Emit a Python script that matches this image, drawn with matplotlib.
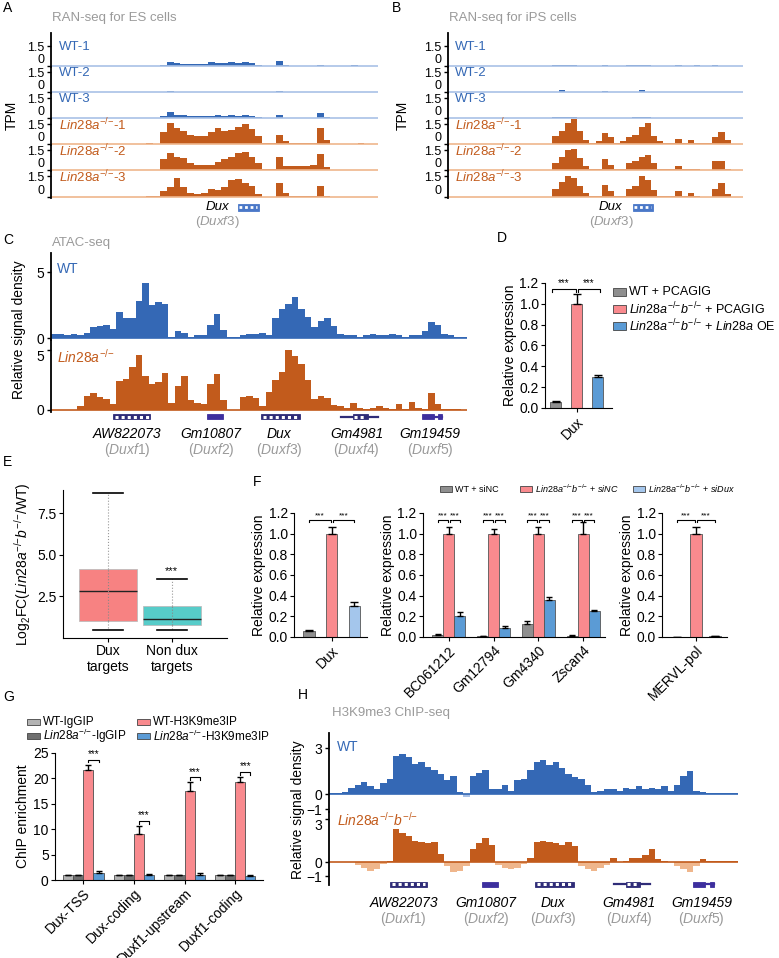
import matplotlib.pyplot as plt
import numpy as np
from matplotlib.patches import Rectangle

plt.rcParams['font.family'] = ['Liberation Sans', 'DejaVu Sans']
plt.rcParams['mathtext.fontset'] = 'custom'
plt.rcParams['mathtext.rm'] = 'Liberation Sans'
plt.rcParams['mathtext.it'] = 'Liberation Sans:italic'
plt.rcParams['mathtext.bf'] = 'Liberation Sans:bold'
plt.rcParams['font.size'] = 9

W, H = 779, 958

BLUE = '#3468b5'
BLUE_L = '#a9c1e6'
ORANGE = '#c25b1c'
ORANGE_L = '#efb68c'
GRAY_T = '#9a9a9a'
NAVY = '#2f2c78'
PURPLE = '#3d2f9e'
BAR_GRAY = '#8f8f8f'
BAR_RED = '#f98a8e'
BAR_BLUE = '#5b9bd5'
BAR_LBLUE = '#a4c6ec'

SUP = r'^{-/{-}}'
LIN = r'$\mathit{Lin28a}' + SUP + '$'
LINB = r'$\mathit{Lin28a}' + SUP + r'\mathit{b}' + SUP + '$'

# RNA-seq coverage (TPM), ES cells, 48 bins across the locus
es_wt1 = [0.02, 0.02, 0.02, 0.02, 0.02, 0.02, 0.02, 0.02, 0.02, 0.02, 0.02, 0.02, 0.02, 0.02, 0.02, 0.02,
          0.1, 0.3, 0.25, 0.18, 0.15, 0.15, 0.18, 0.28, 0.2, 0.22, 0.28, 0.22, 0.28, 0.25, 0.1,
          0.02, 0.02, 0.35, 0.05, 0.02, 0.02, 0.02, 0.02, 0.06, 0.02, 0.02, 0.02, 0.02, 0.05, 0.02, 0.02, 0.02]
es_wt2 = [0.01, 0.01, 0.01, 0.01, 0.01, 0.01, 0.01, 0.01, 0.01, 0.01, 0.01, 0.01, 0.01, 0.01, 0.01, 0.01,
          0.01, 0.04, 0.01, 0.01, 0.01, 0.01, 0.01, 0.03, 0.01, 0.01, 0.01, 0.01, 0.01, 0.01, 0.01,
          0.01, 0.01, 0.04, 0.01, 0.01, 0.01, 0.01, 0.01, 0.01, 0.01, 0.01, 0.01, 0.01, 0.01, 0.01, 0.01, 0.01]
es_wt3 = [0.02, 0.02, 0.02, 0.02, 0.02, 0.02, 0.02, 0.02, 0.02, 0.02, 0.02, 0.02, 0.02, 0.02, 0.02, 0.02,
          0.15, 0.45, 0.25, 0.2, 0.15, 0.15, 0.15, 0.15, 0.2, 0.15, 0.2, 0.18, 0.25, 0.15, 0.05,
          0.02, 0.02, 0.25, 0.02, 0.02, 0.02, 0.02, 0.02, 0.35, 0.05, 0.02, 0.02, 0.02, 0.02, 0.02, 0.02, 0.02]
es_lin1 = [0.02, 0.02, 0.02, 0.02, 0.02, 0.02, 0.02, 0.02, 0.02, 0.02, 0.02, 0.02, 0.02, 0.02, 0.06, 0.02,
           0.9, 1.55, 1.2, 1.0, 0.65, 0.6, 0.6, 0.9, 1.2, 1.0, 1.05, 1.3, 1.5, 1.1, 0.6,
           0.1, 0.1, 0.7, 0.2, 0.1, 0.1, 0.1, 0.1, 1.2, 0.3, 0.02, 0.02, 0.02, 0.02, 0.05, 0.02, 0.02]
es_lin2 = [0.02, 0.02, 0.02, 0.02, 0.02, 0.02, 0.02, 0.02, 0.02, 0.02, 0.02, 0.02, 0.02, 0.02, 0.02, 0.02,
           0.8, 1.3, 1.0, 0.9, 0.55, 0.35, 0.35, 0.35, 0.6, 0.8, 1.0, 1.3, 1.35, 1.0, 0.5,
           0.05, 0.05, 1.0, 0.3, 0.3, 0.3, 0.3, 0.35, 1.2, 0.2, 0.02, 0.02, 0.02, 0.02, 0.02, 0.02, 0.02]
es_lin3 = [0.02, 0.02, 0.02, 0.02, 0.02, 0.02, 0.02, 0.02, 0.02, 0.02, 0.02, 0.02, 0.02, 0.02, 0.1, 0.1,
           0.4, 0.7, 1.4, 0.7, 0.3, 0.2, 0.3, 0.6, 0.5, 0.7, 1.2, 1.3, 1.0, 0.8, 0.2,
           0.02, 0.02, 1.0, 0.3, 0.05, 0.05, 0.05, 0.05, 0.8, 0.1, 0.02, 0.02, 0.02, 0.02, 0.02, 0.02, 0.02]

# RNA-seq coverage (TPM), iPS cells
ips_wt1 = [0, 0, 0, 0, 0, 0, 0, 0, 0, 0, 0, 0, 0, 0, 0, 0, 0,
           0.05, 0.08, 0.1, 0.05, 0, 0, 0, 0, 0.08, 0, 0, 0, 0.05, 0.06, 0.1, 0.06,
           0, 0, 0, 0, 0.05, 0, 0, 0.05, 0, 0, 0.06, 0, 0, 0, 0]
ips_wt2 = [0, 0, 0, 0, 0, 0, 0, 0, 0, 0, 0, 0, 0, 0, 0, 0, 0,
           0, 0.15, 0, 0, 0, 0, 0, 0, 0.1, 0, 0, 0, 0, 0, 0.15, 0,
           0, 0, 0, 0, 0, 0, 0, 0, 0, 0, 0, 0, 0, 0, 0]
ips_wt3 = [0, 0, 0, 0, 0, 0, 0, 0, 0, 0, 0, 0, 0, 0, 0, 0, 0,
           0.05, 0.08, 0.1, 0.06, 0, 0, 0, 0, 0.03, 0, 0, 0, 0, 0.04, 0.08, 0.05,
           0, 0, 0, 0, 0, 0, 0, 0.03, 0, 0, 0, 0, 0, 0, 0]
ips_lin1 = [0.02, 0.02, 0.02, 0.02, 0.02, 0.02, 0.02, 0.02, 0.02, 0.02, 0.02, 0.02, 0.02, 0.02, 0.02, 0.02, 0.02,
            0.6, 1.0, 1.6, 2.0, 1.0, 0.3, 0.1, 0.2, 0.8, 0.5, 0.1, 0.2, 0.5, 0.7, 1.3, 1.6,
            0.6, 0.2, 0.1, 0.1, 0.4, 0.05, 0.3, 0.05, 0.05, 0.05, 0.5, 0.9, 0.3, 0.02, 0.02]
ips_lin2 = [0.02, 0.02, 0.02, 0.02, 0.02, 0.02, 0.02, 0.02, 0.02, 0.02, 0.02, 0.02, 0.02, 0.02, 0.02, 0.02, 0.02,
            0.5, 1.0, 1.5, 1.6, 0.9, 0.3, 0.05, 0.1, 0.8, 0.4, 0.1, 0.1, 0.5, 0.7, 1.0, 1.1,
            0.5, 0.1, 0.05, 0.05, 0.3, 0.05, 0.1, 0.05, 0.02, 0.02, 0.7, 0.7, 0.1, 0.02, 0.02]
ips_lin3 = [0.02, 0.02, 0.02, 0.02, 0.02, 0.02, 0.02, 0.02, 0.02, 0.02, 0.02, 0.02, 0.02, 0.02, 0.02, 0.02, 0.02,
            0.6, 1.1, 1.5, 1.4, 0.8, 0.3, 0.05, 0.1, 0.9, 0.4, 0.05, 0.1, 0.6, 0.8, 1.5, 1.2,
            0.5, 0.1, 0.05, 0.05, 0.4, 0.05, 0.3, 0.05, 0.02, 0.02, 0.6, 1.0, 0.2, 0.02, 0.02]

# ATAC-seq signal, 64 bins
atac_wt = [0.3, 0.3, 0.2, 0.3, 0.2, 0.4, 0.8, 0.9, 1.0, 0.7, 2.0, 1.5, 1.5, 2.8, 4.2, 2.5,
           2.7, 2.6, 0.1, 0.5, 0.4, 0.1, 0.2, 0.2, 1.0, 1.8, 0.6, 0.1, 0.1, 0.2, 0.3, 0.3,
           0.4, 0.2, 1.5, 2.2, 2.6, 3.1, 2.2, 1.6, 0.8, 1.3, 1.5, 0.9, 0.3, 0.2, 0.2, 0.1,
           0.2, 0.3, 0.2, 0.2, 0.3, 0.2, 0.1, 0.2, 0.2, 0.5, 1.2, 1.0, 0.3, 0.2, 0.1, 0.1]
atac_lin = [0, 0, 0, 0, 0.3, 1.2, 1.4, 1.1, 0.9, 0.5, 2.4, 2.6, 3.6, 4.6, 2.8, 2.2,
            2.3, 3.1, 0.6, 2.0, 2.8, 0.8, 0.6, 0.5, 2.2, 3.0, 0.8, 0, 0, 1.1, 1.2, 1.0,
            0.3, 1.5, 2.5, 3.2, 5.0, 4.5, 3.8, 2.5, 0.9, 1.2, 1.0, 0.4, 0.3, 0.2, 0.6, 0.2,
            0.1, 0.2, 0.3, 0.2, 0.1, 0.5, 0.1, 0.7, 0.2, 0.1, 1.4, 0.5, 0.1, 0.1, 0.1, 0]

# H3K9me3 ChIP-seq signal, 64 bins
chip_wt = [0.05, 0.05, 0.1, 0.4, 0.6, 0.8, 0.5, 0.3, 0.7, 1.0, 2.5, 2.6, 2.4, 2.0, 2.1, 1.8,
           1.6, 1.3, 0.9, 1.2, 0.1, -0.2, 1.2, 1.4, 1.6, 0.3, 0.3, 0.6, 0.2, 0.9, 1.0, 1.6,
           2.1, 2.2, 1.9, 2.1, 1.7, 1.3, 1.1, 1.0, 0.6, 0.1, 0.2, 0.3, 0.3, 0.2, 0.4, 0.3,
           0.5, 0.3, 0.4, 0.3, 0.5, 0.2, 0.6, 1.2, 1.5, 0.2, 0.1, 0.05, 0.05, 0.05, 0.05, 0.05]
chip_lin = [0, 0, 0, 0, -0.2, -0.4, -0.6, -0.5, -0.1, 0.1, 2.3, 2.0, 1.8, 1.5, 1.4, 1.3,
            1.4, 0.6, -0.3, -0.7, -0.6, -0.3, 0.9, 1.3, 1.7, 1.2, -0.2, -0.4, -0.5, -0.4, -0.1, 0.3,
            1.4, 1.5, 1.4, 1.3, 1.2, 1.4, 1.1, -0.3, -0.5, -0.6, -0.4, -0.2, 0.3, 0.0, 0.1, 0.3,
            0.3, 0.5, 0.9, 0.2, 0.05, 0.0, -0.3, -0.5, -0.7, -0.3, 0.2, 0.1, 0.05, 0.05, 0.05, 0.05]

# gene models on the 64-bin locus
gene_names = ['AW822073', 'Gm10807', 'Dux', 'Gm4981', 'Gm19459']
gene_alias = ['Duxf1', 'Duxf2', 'Duxf3', 'Duxf4', 'Duxf5']
gene_start = [9.6, 24.0, 32.3, 44.6, 57.0]
gene_end = [15.3, 26.4, 38.3, 50.3, 60.2]
gene_style = ['hatch', 'solid', 'hatch', 'intron', 'utr']
gene_label_x = [11.7, 24.6, 35.1, 47.0, 58.3]

# D
d_labels = ['WT + PCAGIG', LINB + ' + PCAGIG', LINB + r' + $\mathit{Lin28a}$ OE']
d_vals = [0.06, 1.0, 0.30]
d_err = [0.01, 0.09, 0.015]

# E
e_labels = ['Dux\ntargets', 'Non dux\ntargets']
e_lo = [0.48, 0.48]
e_q1 = [1.0, 0.77]
e_med = [2.8, 1.13]
e_q3 = [4.17, 1.9]
e_hi = [8.7, 3.57]

# F
f_legend = ['WT + siNC', LINB + r' + $\mathit{siNC}$', LINB + r' + $\mathit{siDux}$']
f_dux = [0.06, 1.0, 0.30]
f_dux_err = [0.005, 0.065, 0.04]
f_genes = ['BC061212', 'Gm12794', 'Gm4340', 'Zscan4']
f_gray = [0.02, 0.005, 0.13, 0.01]
f_gray_err = [0.005, 0.002, 0.025, 0.005]
f_red = [1.0, 1.0, 1.0, 1.0]
f_red_err = [0.06, 0.05, 0.065, 0.115]
f_blue = [0.2, 0.09, 0.36, 0.25]
f_blue_err = [0.045, 0.015, 0.03, 0.015]
f_mervl = [0.002, 1.0, 0.01]
f_mervl_err = [0.0, 0.06, 0.003]

# G
g_labels = ['Dux-TSS', 'Dux-coding', 'Duxf1-upstream', 'Duxf1-coding']
g_series = ['WT-IgGIP', LIN + '-IgGIP', 'WT-H3K9me3IP', LIN + '-H3K9me3IP']
g_wt_igg = [1.0, 1.0, 1.0, 1.0]
g_lin_igg = [1.0, 1.0, 1.0, 1.0]
g_wt_k9 = [21.6, 9.1, 17.6, 19.2]
g_lin_k9 = [1.4, 1.0, 0.9, 0.8]
g_igg_err = [0.08, 0.08, 0.08, 0.08]
g_wt_k9_err = [1.1, 1.5, 1.6, 1.0]
g_lin_k9_err = [0.3, 0.2, 0.4, 0.2]

fig = plt.figure(figsize=(W / 100, H / 100), dpi=100)


def px_axes(x0, y0, x1, y1):
    return fig.add_axes([x0 / W, 1 - y1 / H, (x1 - x0) / W, (y1 - y0) / H])


def ftext(x, y, s, **kw):
    fig.text(x / W, 1 - y / H, s, **kw)


def legend_item(x, y, color, label, fs, bw=12, bh=8):
    fig.add_artist(Rectangle((x / W, 1 - (y + bh / 2) / H), bw / W, bh / H, transform=fig.transFigure,
                             fc=color, ec='#444444', lw=0.6))
    ftext(x + bw + 3, y, label, fontsize=fs, va='center', ha='left')


def draw_track(ax, vals, color, base, neg, ylim, ticks, ticklabels, fs=9.5):
    vals = np.array(vals, dtype=float)
    edges = np.arange(len(vals) + 1)
    ax.stairs(np.clip(vals, 0, None), edges, fill=True, color=color, lw=0)
    if vals.min() < 0:
        ax.stairs(np.clip(vals, None, 0), edges, fill=True, color=neg, lw=0)
    ax.axhline(0, color=base, lw=1.2)
    ax.set_xlim(0, len(vals))
    ax.set_ylim(*ylim)
    for s in ['top', 'right', 'bottom']:
        ax.spines[s].set_visible(False)
    ax.spines['left'].set_linewidth(1.3)
    ax.set_xticks([])
    ax.set_yticks(ticks)
    ax.set_yticklabels(ticklabels)
    ax.tick_params(axis='y', length=3, pad=2, labelsize=fs, width=1)
    ax.patch.set_alpha(0)


def gene_box(ax, s, e, yb, h, kind, c):
    tr = ax.get_xaxis_transform()
    if kind == 'hatch':
        ax.add_patch(Rectangle((s, yb - h / 2), e - s, h, transform=tr, fc=c, ec=c, lw=0.6))
        ax.plot([s + 0.25, e - 0.25], [yb, yb], transform=tr, color='white', lw=2.2, ls=(0, (1, 1)))
    elif kind == 'solid':
        ax.add_patch(Rectangle((s, yb - h / 2), e - s, h, transform=tr, fc=PURPLE, ec=PURPLE, lw=0.6))
    elif kind == 'intron':
        ax.plot([s, e], [yb, yb], transform=tr, color=c, lw=1.6)
        gene_box(ax, s + 1.8, e - 1.6, yb, h, 'hatch', c)
    else:
        ax.add_patch(Rectangle((s, yb - h / 2), 1.9, h, transform=tr, fc=PURPLE, ec=PURPLE, lw=0.6))
        ax.plot([s + 1.9, e], [yb, yb], transform=tr, color=PURPLE, lw=1.6)
        ax.add_patch(Rectangle((e - 0.6, yb - h / 2), 0.6, h, transform=tr, fc=PURPLE, ec=PURPLE, lw=0.6))


def draw_genes(ax, nbins, yb, h, yl1, yl2, fs):
    ax.set_xlim(0, nbins)
    ax.set_ylim(0, 1)
    ax.axis('off')
    for i in range(len(gene_names)):
        gene_box(ax, gene_start[i], gene_end[i], yb, h, gene_style[i], NAVY)
        ax.text(gene_label_x[i], yl1, gene_names[i], style='italic', ha='center', va='center', fontsize=fs)
        ax.text(gene_label_x[i], yl2, r'($\mathit{' + gene_alias[i] + '}$)', color=GRAY_T,
                ha='center', va='center', fontsize=fs)


def bracket(ax, x1, x2, y, text, fs, d):
    ax.plot([x1, x1, x2, x2], [y - d, y, y, y - d], color='k', lw=0.8, clip_on=False)
    ax.text((x1 + x2) / 2, y + d * 0.3, text, ha='center', va='bottom', fontsize=fs, clip_on=False)


def style_bar_axes(ax, fs=10):
    for s in ['top', 'right']:
        ax.spines[s].set_visible(False)
    ax.tick_params(labelsize=fs, length=3, pad=1.5)


# ---------------- A and B: RNA-seq tracks ----------------
tops = [33, 67, 93, 119, 145, 171]
bots = [67, 93, 119, 145, 171, 198]
ylims = [(-0.075, 2.48), (-0.075, 1.88), (-0.075, 1.88), (-0.075, 1.88), (-0.075, 1.88), (-0.075, 1.88)]
track_names = ['WT-1', 'WT-2', 'WT-3', LIN + '-1', LIN + '-2', LIN + '-3']
track_cols = [BLUE, BLUE, BLUE, ORANGE, ORANGE, ORANGE]
base_cols = [BLUE_L, BLUE_L, BLUE_L, ORANGE_L, ORANGE_L, ORANGE_L]
panels_ab = [
    (51, 378, [es_wt1, es_wt2, es_wt3, es_lin1, es_lin2, es_lin3], 'RAN-seq for ES cells', 'A', 3, 12, 27.4, 30.5, 24.4),
    (448, 743, [ips_wt1, ips_wt2, ips_wt3, ips_lin1, ips_lin2, ips_lin3], 'RAN-seq for iPS cells', 'B', 392, 403, 30.1, 33.3, 26.5),
]
for x0, x1, tracks, title, letter, lx, tpx, gs, ge, gl in panels_ab:
    for i in range(6):
        ax = px_axes(x0, tops[i], x1, bots[i])
        draw_track(ax, tracks[i], track_cols[i], base_cols[i], base_cols[i], ylims[i], [0, 1.5], ['0', '1.5'], fs=9)
        ax.get_yticklabels()[0].set_va('bottom')
        ax.text(0.025, 1.45, track_names[i], transform=ax.get_yaxis_transform(),
                color=track_cols[i], fontsize=9.5, va='center', ha='left')
    ftext(lx, 8, letter, fontsize=10, va='center')
    ftext(x0 + 1, 18, title, fontsize=9.5, color=GRAY_T, va='center')
    ftext(tpx, 115, 'TPM', fontsize=10, rotation=90, va='center', ha='center')
    gax = px_axes(x0, 198, x1, 230)
    gax.set_xlim(0, 48)
    gax.set_ylim(0, 1)
    gax.axis('off')
    tr = gax.get_xaxis_transform()
    gax.add_patch(Rectangle((gs, 0.6), ge - gs, 0.22, transform=tr, fc='#4a78c8', ec='#4a78c8', lw=0.6))
    gax.plot([gs + 0.2, ge - 0.2], [0.71, 0.71], transform=tr, color='white', lw=2.0, ls=(0, (1, 1)))
    gax.text(gl, 0.71, 'Dux', style='italic', ha='center', va='center', fontsize=9.5)
    gax.text(gl, 0.25, r'($\mathit{Duxf3}$)', color=GRAY_T, ha='center', va='center', fontsize=9.5)

# ---------------- C: ATAC-seq ----------------
ax = px_axes(51, 253, 467, 340)
draw_track(ax, atac_wt, BLUE, BLUE, BLUE_L, (-0.15, 6.44), [0, 5], ['0', '5'], fs=10)
ax.get_yticklabels()[0].set_va('center_baseline')
ax.text(0.015, 0.82, 'WT', transform=ax.transAxes, color=BLUE, fontsize=10, va='center')
ax = px_axes(51, 340, 467, 412)
draw_track(ax, atac_lin, ORANGE, ORANGE, ORANGE_L, (-0.17, 5.83), [0, 5], ['0', '5'], fs=10)
ax.get_yticklabels()[1].set_va('top')
ax.text(0.015, 0.77, LIN, transform=ax.transAxes, color=ORANGE, fontsize=10, va='center')
gax = px_axes(51, 412, 467, 460)
draw_genes(gax, 64, 0.9, 0.1, 0.54, 0.2, 10)
ftext(3, 240, 'C', fontsize=10, va='center')
ftext(52, 243, 'ATAC-seq', fontsize=9.5, color=GRAY_T, va='center')
ftext(19, 330, 'Relative signal density', fontsize=10, rotation=90, va='center', ha='center')

# ---------------- D ----------------
axd = px_axes(545, 283, 612, 408)
d_cols = [BAR_GRAY, BAR_RED, BAR_BLUE]
xd = np.arange(3)
axd.bar(xd, d_vals, 0.52, color=d_cols, edgecolor='#555555', lw=0.6)
axd.errorbar(xd, d_vals, yerr=[np.zeros(3), d_err], fmt='none', ecolor='k', elinewidth=1, capsize=3)
axd.set_xlim(-0.52, 2.67)
axd.set_ylim(0, 1.2)
axd.set_yticks([0, 0.2, 0.4, 0.6, 0.8, 1.0, 1.2])
axd.set_yticklabels(['0.0', '0.2', '0.4', '0.6', '0.8', '1.0', '1.2'])
axd.set_xticks([1])
axd.set_xticklabels(['Dux'], rotation=45, ha='right', rotation_mode='anchor')
axd.set_ylabel('Relative expression', fontsize=10, labelpad=2)
style_bar_axes(axd)
bracket(axd, -0.2, 0.95, 1.14, '***', 7, 0.025)
bracket(axd, 1.05, 2.1, 1.14, '***', 7, 0.025)
ftext(497, 238, 'D', fontsize=10, va='center')
for i in range(3):
    legend_item(613, 292 + 17 * i, d_cols[i], d_labels[i], 9, bw=13, bh=7)

# ---------------- E ----------------
axe = px_axes(63, 490, 227, 638)
stats = []
for i in range(2):
    stats.append(dict(whislo=e_lo[i], q1=e_q1[i], med=e_med[i], q3=e_q3[i], whishi=e_hi[i], label=e_labels[i]))
bp = axe.bxp(stats, positions=[1, 2], widths=0.91, patch_artist=True, showfliers=False, capwidths=0.47,
             boxprops=dict(lw=0.6, edgecolor='#bbbbbb'),
             medianprops=dict(color='#222222', lw=1),
             whiskerprops=dict(color='#999999', lw=0.8, ls=':'),
             capprops=dict(color='k', lw=1.2))
for patch, c in zip(bp['boxes'], ['#f77b7b', '#4ecac6']):
    patch.set_facecolor(c)
    patch.set_alpha(0.95)
axe.vlines([1, 2], e_q1, e_q3, color='#888888', lw=0.8, ls=':', zorder=5)
axe.set_xlim(0.29, 2.87)
axe.set_ylim(0, 8.9)
axe.set_yticks([2.5, 5.0, 7.5])
axe.set_yticklabels(['2.5', '5.0', '7.5'])
axe.tick_params(axis='x', length=0, pad=6)
style_bar_axes(axe)
axe.text(2, e_hi[1] + 0.15, '***', ha='center', va='bottom', fontsize=8)
axe.set_ylabel(r'Log$_2$FC($\mathit{Lin28a}' + SUP + r'\mathit{b}' + SUP + '$/WT)', fontsize=10, labelpad=3)
ftext(3, 462, 'E', fontsize=10, va='center')

# ---------------- F ----------------
f_cols = [BAR_GRAY, BAR_RED, BAR_LBLUE]
yt = [0, 0.2, 0.4, 0.6, 0.8, 1.0, 1.2]
ytl = ['0.0', '0.2', '0.4', '0.6', '0.8', '1.0', '1.2']


def f_axes(x0, x1):
    ax = px_axes(x0, 513, x1, 637)
    ax.set_ylim(0, 1.2)
    ax.set_yticks(yt)
    ax.set_yticklabels(ytl)
    ax.set_ylabel('Relative expression', fontsize=10, labelpad=2)
    style_bar_axes(ax)
    return ax


axf1 = f_axes(294, 367)
axf1.bar(xd, f_dux, 0.5, color=f_cols, edgecolor='#555555', lw=0.6)
axf1.errorbar(xd, f_dux, yerr=[np.zeros(3), f_dux_err], fmt='none', ecolor='k', elinewidth=1, capsize=3)
axf1.set_xlim(-0.66, 2.55)
axf1.set_xticks([1])
axf1.set_xticklabels(['Dux'], rotation=45, ha='right', rotation_mode='anchor')
bracket(axf1, 0.0, 0.95, 1.13, '***', 6, 0.02)
bracket(axf1, 1.05, 2.0, 1.13, '***', 6, 0.02)

axf2 = f_axes(423, 605)
xg = np.arange(4)
bw = 0.246
f2_sets = [(f_gray, f_gray_err, BAR_GRAY), (f_red, f_red_err, BAR_RED), (f_blue, f_blue_err, BAR_BLUE)]
for k, (v, e, c) in enumerate(f2_sets):
    xs = xg + (k - 1) * bw
    axf2.bar(xs, v, bw, color=c, edgecolor='#555555', lw=0.6)
    axf2.errorbar(xs, v, yerr=[np.zeros(4), e], fmt='none', ecolor='k', elinewidth=1, capsize=2.5)
for j in range(4):
    bracket(axf2, j - bw, j - 0.02, 1.13, '***', 6, 0.02)
    bracket(axf2, j + 0.02, j + bw, 1.13, '***', 6, 0.02)
axf2.set_xlim(-0.58, 3.49)
axf2.set_xticks(xg)
axf2.set_xticklabels(f_genes, rotation=45, ha='right', rotation_mode='anchor')

axf3 = f_axes(662, 727)
axf3.bar(xd, f_mervl, 0.6, color=f_cols, edgecolor='#555555', lw=0.6)
axf3.errorbar(xd, f_mervl, yerr=[np.zeros(3), f_mervl_err], fmt='none', ecolor='k', elinewidth=1, capsize=3)
axf3.set_xlim(-0.79, 2.63)
axf3.set_xticks([1])
axf3.set_xticklabels(['MERVL-pol'], rotation=45, ha='right', rotation_mode='anchor')
bracket(axf3, 0.0, 0.95, 1.13, '***', 6, 0.02)
bracket(axf3, 1.05, 2.0, 1.13, '***', 6, 0.02)

ftext(253, 482, 'F', fontsize=10, va='center')
for xl, c, lab in zip([440, 520, 633], f_cols, f_legend):
    legend_item(xl, 489, c, lab, 6.5, bw=12, bh=6)

# ---------------- G ----------------
axg = px_axes(55, 753, 263, 880)
g_cols = ['#b3b3b3', '#6f6f6f', BAR_RED, BAR_BLUE]
g_sets = [(g_wt_igg, g_igg_err), (g_lin_igg, g_igg_err), (g_wt_k9, g_wt_k9_err), (g_lin_k9, g_lin_k9_err)]
gw = 0.2
for k, (v, e) in enumerate(g_sets):
    xs = xg + (k - 1.5) * gw
    axg.bar(xs, v, gw, color=g_cols[k], edgecolor='#4d4d4d', lw=0.6)
    axg.errorbar(xs, v, yerr=[np.zeros(4), e], fmt='none', ecolor='k', elinewidth=1, capsize=2.5)
for j in range(4):
    bracket(axg, j + 0.1, j + 0.3, g_wt_k9[j] + g_wt_k9_err[j] + 1.0, '***', 7, 0.5)
axg.set_xlim(-0.56, 3.55)
axg.set_ylim(0, 25)
axg.set_yticks([0, 5, 10, 15, 20, 25])
axg.set_xticks(xg)
axg.set_xticklabels(g_labels, rotation=45, ha='right', rotation_mode='anchor')
axg.set_ylabel('ChIP enrichment', fontsize=10, labelpad=2)
style_bar_axes(axg)
ftext(3, 697, 'G', fontsize=10, va='center')
g_leg_pos = [(27, 722), (27, 736), (137, 722), (137, 736)]
for (lx, ly), c, lab in zip(g_leg_pos, g_cols, g_series):
    legend_item(lx, ly, c, lab, 8.5, bw=13, bh=6)

# ---------------- H: H3K9me3 ChIP-seq ----------------
ax = px_axes(329, 733, 738, 812)
draw_track(ax, chip_wt, BLUE, BLUE, BLUE_L, (-1.18, 4.0), [-1, 0, 3], ['\u22121', '0', '3'], fs=10)
ax.get_yticklabels()[0].set_va('center_baseline')
ax.text(0.02, 0.82, 'WT', transform=ax.transAxes, color=BLUE, fontsize=10, va='center')
ax = px_axes(329, 812, 738, 885)
draw_track(ax, chip_lin, ORANGE, ORANGE, ORANGE_L, (-1.6, 3.5), [-1, 0, 3], ['\u22121', '0', '3'], fs=10)
ax.get_yticklabels()[2].set_va('top')
ax.text(0.02, 0.9, LINB, transform=ax.transAxes, color=ORANGE, fontsize=10, va='center')
gax = px_axes(329, 876, 738, 926)
draw_genes(gax, 64, 0.84, 0.1, 0.46, 0.14, 10)
ftext(298, 695, 'H', fontsize=10, va='center')
ftext(332, 713, 'H3K9me3 ChIP-seq', fontsize=9.5, color=GRAY_T, va='center')
ftext(298, 810, 'Relative signal density', fontsize=10, rotation=90, va='center', ha='center')

fig.savefig('out.png', dpi=100)
